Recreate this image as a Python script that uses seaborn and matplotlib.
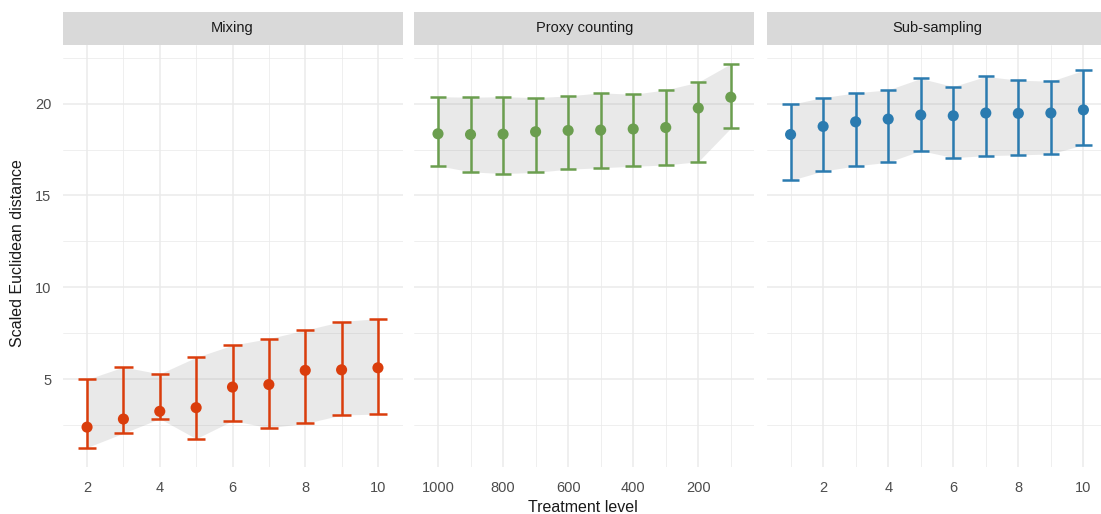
import numpy as np
import pandas as pd
import seaborn as sns
import matplotlib.pyplot as plt
from matplotlib.patches import Rectangle
from matplotlib.ticker import MultipleLocator

# ---- data -------------------------------------------------------------
panels = ["Mixing", "Proxy counting", "Sub-sampling"]

mixing_level = [2, 3, 4, 5, 6, 7, 8, 9, 10]
mixing_mean = [2.39, 2.83, 3.25, 3.45, 4.57, 4.71, 5.48, 5.51, 5.62]
mixing_low = [1.28, 2.06, 2.85, 1.76, 2.74, 2.36, 2.59, 3.05, 3.10]
mixing_high = [4.99, 5.66, 5.29, 6.19, 6.85, 7.21, 7.67, 8.14, 8.30]

proxy_level = [1000, 900, 800, 700, 600, 500, 400, 300, 200, 100]
proxy_mean = [18.36, 18.32, 18.34, 18.47, 18.54, 18.56, 18.62, 18.70, 19.76, 20.35]
proxy_low = [16.62, 16.29, 16.19, 16.26, 16.43, 16.51, 16.59, 16.66, 16.84, 18.67]
proxy_high = [20.38, 20.35, 20.38, 20.33, 20.42, 20.59, 20.51, 20.75, 21.17, 22.17]

sub_level = [1, 2, 3, 4, 5, 6, 7, 8, 9, 10]
sub_mean = [18.32, 18.76, 19.01, 19.16, 19.38, 19.34, 19.49, 19.47, 19.49, 19.66]
sub_low = [15.82, 16.33, 16.61, 16.81, 17.44, 17.06, 17.17, 17.21, 17.26, 17.76]
sub_high = [19.96, 20.33, 20.59, 20.75, 21.37, 20.93, 21.48, 21.28, 21.22, 21.81]

y_ticks = [5, 10, 15, 20]

# ---- styling ----------------------------------------------------------
colors = {"Mixing": "#DA3D0C", "Proxy counting": "#6B9E4F", "Sub-sampling": "#2B7BB0"}
cap_width = {"Mixing": 0.5, "Proxy counting": 50, "Sub-sampling": 0.5}
major_step = {"Mixing": 2, "Proxy counting": 200, "Sub-sampling": 2}
minor_step = {"Mixing": 1, "Proxy counting": 100, "Sub-sampling": 1}

frames = []
for name, lv, mn, lo, hi in [
    ("Mixing", mixing_level, mixing_mean, mixing_low, mixing_high),
    ("Proxy counting", proxy_level, proxy_mean, proxy_low, proxy_high),
    ("Sub-sampling", sub_level, sub_mean, sub_low, sub_high),
]:
    frames.append(pd.DataFrame({"panel": name, "level": lv, "mean": mn,
                                "low": lo, "high": hi}))
df = pd.concat(frames, ignore_index=True)

sns.set_theme(style="whitegrid")
plt.rcParams["font.family"] = ["Liberation Sans", "DejaVu Sans"]

W, H = 1101, 514


def draw_panel(data, color=None, **kws):
    ax = plt.gca()
    name = data["panel"].iloc[0]
    c = colors[name]
    w = cap_width[name]
    x = data["level"].to_numpy()
    ax.fill_between(x, data["low"], data["high"], color="0.5", alpha=0.17,
                    lw=0, zorder=2)
    ax.vlines(x, data["low"], data["high"], color=c, lw=1.8, zorder=3)
    ax.hlines(data["low"], x - w / 2, x + w / 2, color=c, lw=1.8, zorder=3)
    ax.hlines(data["high"], x - w / 2, x + w / 2, color=c, lw=1.8, zorder=3)
    sns.scatterplot(data=data, x="level", y="mean", color=c, s=64,
                    edgecolor="none", linewidth=0, ax=ax, zorder=4, legend=False)


g = sns.FacetGrid(df, col="panel", col_order=panels, sharex=False, sharey=True,
                  height=4, aspect=1)
g.map_dataframe(draw_panel)
g.set_titles("")
g.set_axis_labels("", "")
fig = g.figure
fig.set_size_inches(W / 100, H / 100)
fig.set_dpi(100)

# shared y range with 5% padding
ymin, ymax = df["low"].min(), df["high"].max()
ypad = 0.05 * (ymax - ymin)

panel_left = [62.5, 414.4, 767.0]
panel_w = 340.0
top_px, bot_px = 44.6, 466.7
strip_top = 11.7

for ax, name, left in zip(g.axes.flat, panels, panel_left):
    ax.set_position([left / W, 1 - bot_px / H, panel_w / W, (bot_px - top_px) / H])
    sub = df[df["panel"] == name]
    w = cap_width[name]
    lo = sub["level"].min() - w / 2
    hi = sub["level"].max() + w / 2
    pad = 0.05 * (hi - lo)
    if name == "Proxy counting":
        ax.set_xlim(hi + pad, lo - pad)
    else:
        ax.set_xlim(lo - pad, hi + pad)
    ax.set_ylim(ymin - ypad, ymax + ypad)
    ax.xaxis.set_major_locator(MultipleLocator(major_step[name]))
    ax.xaxis.set_minor_locator(MultipleLocator(minor_step[name]))
    ax.set_yticks(y_ticks)
    ax.yaxis.set_minor_locator(MultipleLocator(2.5))
    ax.set_axisbelow(True)
    ax.grid(which="major", color="#EBEBEB", lw=1.1)
    ax.grid(which="minor", color="#EBEBEB", lw=0.55)
    for s in ax.spines.values():
        s.set_visible(False)
    ax.tick_params(which="both", length=0)
    ax.tick_params(axis="x", labelsize=10.5, labelcolor="#4D4D4D", pad=10)
    ax.tick_params(axis="y", labelsize=10.5, labelcolor="#4D4D4D", pad=8)
    ax.set_xlabel("")
    ax.set_ylabel("")
    # facet strip
    frac = (top_px - strip_top) / (bot_px - top_px)
    ax.add_patch(Rectangle((0, 1), 1, frac, transform=ax.transAxes,
                           facecolor="#D9D9D9", edgecolor="none", clip_on=False))
    ax.text(0.5, 1 + frac / 2, name, transform=ax.transAxes, ha="center",
            va="center", fontsize=10.5, color="#1A1A1A")

for ax in g.axes.flat[1:]:
    ax.tick_params(axis="y", labelleft=False)

fig.text(583 / W, 1 - 507 / H, "Treatment level", ha="center", va="center",
         fontsize=11.5, color="#1A1A1A")
fig.text(18 / W, 1 - 253 / H, "Scaled Euclidean distance", ha="center",
         va="center", rotation=90, fontsize=11.5, color="#1A1A1A")

fig.savefig("out.png", dpi=100, facecolor="white")
